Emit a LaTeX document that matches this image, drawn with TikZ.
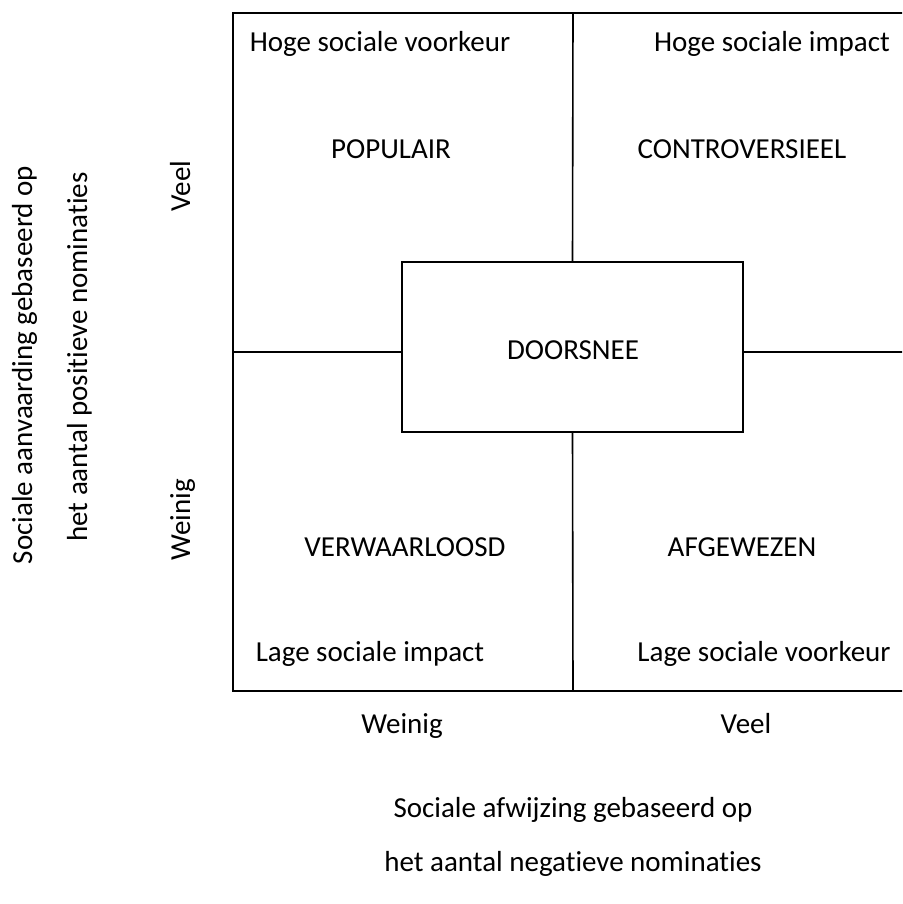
\documentclass[tikz,border=0pt]{standalone}
\usepackage{fontspec}
\setmainfont{Carlito}[Ligatures={NoCommon}]
\begin{document}
\begin{tikzpicture}[x=1pt,y=-1pt,
  ln/.style={line width=1.6pt, line cap=rect},
  lbl/.style={font=\fontsize{29}{34}\selectfont, inner sep=0pt, anchor=center,
    text height=20pt, text depth=6pt},
  rot/.style={lbl, rotate=90}]
\useasboundingbox (0,0) rectangle (902,904);
\clip (0,0) rectangle (902,904);
% coordinates
\coordinate (tl) at (233,13);
\coordinate (bl) at (233,691);
\coordinate (tr) at (910,13);
\coordinate (br) at (910,691);
\coordinate (mt) at (573,13);
\coordinate (mb) at (573,691);
\coordinate (ml) at (233,352);
\coordinate (mr) at (910,352);
\node[draw, line width=1.6pt, minimum width=341pt, minimum height=170pt, inner sep=0pt] (box) at (572.5,347) {};
% outer frame (right side clipped)
\draw[ln] (tr) -- (tl) -- (bl) -- (br);
\draw[ln] (mt) -- (box.north);
\draw[ln] (box.south) -- (mb);
\draw[ln] (ml) -- (ml -| box.west);
\draw[ln] (mr -| box.east) -- (mr);
% texts
\node[lbl] (t1) at (380,45) {Hoge sociale voorkeur};
\node[lbl] (t2) at (772,45) {Hoge sociale impact};
\node[lbl] (pop) at (391,152) {POPULAIR};
\node[lbl] (con) at (742,152) {CONTROVERSIEEL};
\node[lbl] (doo) at (573,352) {DOORSNEE};
\node[lbl] (ver) at (405,549) {VERWAARLOOSD};
\node[lbl] (afg) at (742,549) {AFGEWEZEN};
\node[lbl] (b1) at (370,654) {Lage sociale impact};
\node[lbl] (b2) at (764,654) {Lage sociale voorkeur};
\node[lbl] (xw) at (402,726) {Weinig};
\node[lbl] (xv) at (746,726) {Veel};
\node[lbl] (xa) at (573,810) {Sociale afwijzing gebaseerd op};
\node[lbl] (xb) at (573,864) {het aantal negatieve nominaties};
\node[rot] (yv) at (183,186) {Veel};
\node[rot] (yw) at (183,520) {Weinig};
\node[rot] (ya) at (25,365) {Sociale aanvaarding gebaseerd op};
\node[rot] (yb) at (80,357) {het aantal positieve nominaties};
\end{tikzpicture}
\end{document}
